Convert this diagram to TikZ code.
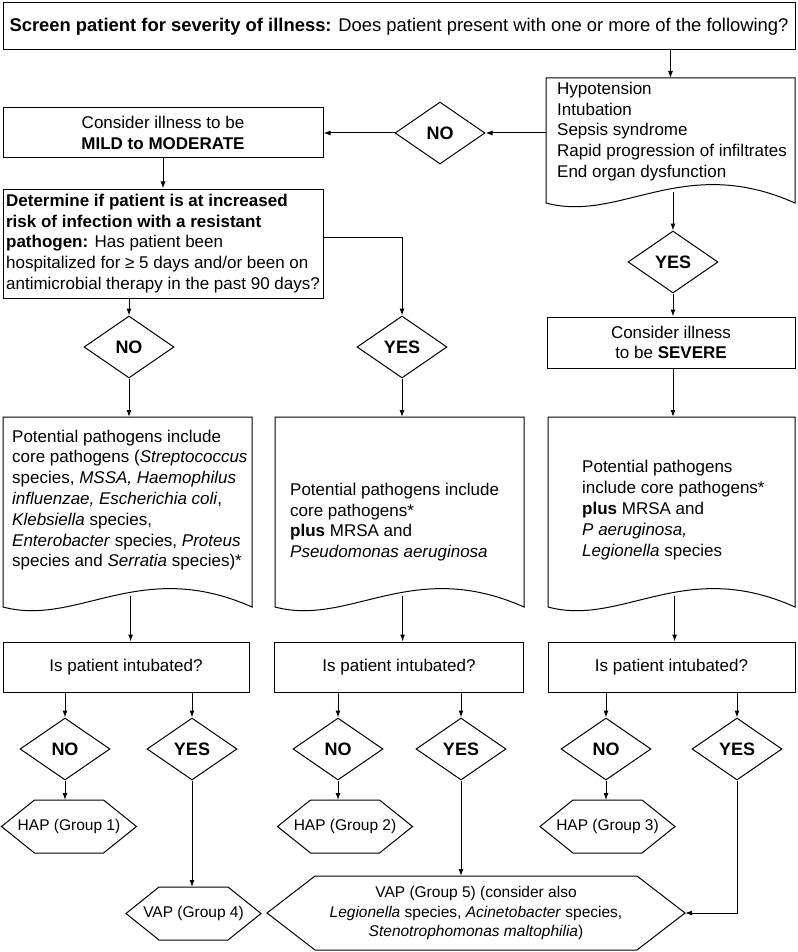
\documentclass[tikz,border=0pt]{standalone}
\usepackage{fontspec}
\setmainfont{Liberation Sans}
\usetikzlibrary{arrows.meta,shapes.geometric}
\tikzset{
  line/.style={draw=black, line width=1pt},
  arr/.style={draw=black, line width=1pt, -{Latex[length=7pt,width=5pt]}},
  body/.style={font=\fontsize{17}{20.8}\selectfont},
  rbox/.style={line, rectangle, inner sep=0pt, align=center, body},
  boxtxt/.style={inner sep=0pt, anchor=west, align=left, body},
  dia/.style={line, diamond, minimum width=90pt, minimum height=62pt, inner sep=0pt, font=\bfseries\fontsize{18}{20}\selectfont},
  hextxt/.style={inner sep=0pt, align=center, font=\fontsize{15.5}{19.5}\selectfont},
}
% document shape: name, x0, ytop, x1, ybottom, text x, text y, text
\newcommand\docbox[8]{%
  \draw[line] (#2,#3) -- (#4,#3) -- (#4,#5) .. controls ({#4-0.45*(#4-#2)},{#5-50}) and ({#2+0.3*(#4-#2)},{#5+20}) .. (#2,#5) -- cycle;
  \node[boxtxt] (#1) at (#6,#7) {#8};
  \coordinate (#1-n) at ({(#2+#4)/2},#3);
  \coordinate (#1-w) at (#2,#3);
  \coordinate (#1-s) at ({#2+0.5125*(#4-#2)},{#5-11.25});
}
% hexagon: name, cx, cy, half width, half height, inset, text
\newcommand\hexa[7]{%
  \draw[line] ({#2-#4},#3) -- ({#2-#4+#6},{#3-#5}) -- ({#2+#4-#6},{#3-#5}) -- ({#2+#4},#3) -- ({#2+#4-#6},{#3+#5}) -- ({#2-#4+#6},{#3+#5}) -- cycle;
  \node[hextxt] (#1) at (#2,#3) {#7};
  \coordinate (#1-n) at (#2,{#3-#5});
  \coordinate (#1-e) at ({#2+#4},#3);
}
\begin{document}
\begin{tikzpicture}[x=1pt,y=-1pt]
\useasboundingbox (0,0) rectangle (797,952);
% top
\node[rbox, minimum width=792pt, minimum height=47pt, font=\fontsize{18.4}{21}\selectfont] (top) at (399,26.5)
  {\textbf{Screen patient for severity of illness:} Does patient present with one or more of the following?};
\docbox{hyp}{546}{78}{795}{203}{557}{131.5}{Hypotension\\Intubation\\Sepsis syndrome\\Rapid progression of infiltrates\\End organ dysfunction}
\node[dia] (nod) at (440,133) {NO};
\node[rbox, minimum width=320pt, minimum height=50pt] (mild) at (163,133) {Consider illness to be\\\textbf{MILD to MODERATE}};
\node[rbox, minimum width=320pt, minimum height=109pt, align=left] (det) at (163,243.5)
  {\textbf{Determine if patient is at increased}\\\textbf{risk of infection with a resistant}\\\textbf{pathogen:} Has patient been\\hospitalized for ≥ 5 days and/or been on\\antimicrobial therapy in the past 90 days?};
\node[dia] (no1d) at (129,347) {NO};
\node[dia] (yes1d) at (402,347) {YES};
\node[dia] (yesS) at (673,262) {YES};
\node[rbox, minimum width=248pt, minimum height=51pt] (sev) at (671,342.5) {Consider illness\\to be \textbf{SEVERE}};
% document boxes
\docbox{d1}{3}{417}{252}{607}{12}{500}{Potential pathogens include\\core pathogens (\textit{Streptococcus}\\species, \textit{MSSA, Haemophilus}\\\textit{influenzae, Escherichia coli},\\\textit{Klebsiella} species,\\\textit{Enterobacter} species, \textit{Proteus}\\species and \textit{Serratia} species)*}
\docbox{d2}{275}{417}{524}{607}{290}{522}{Potential pathogens include\\core pathogens*\\\textbf{plus} MRSA and\\\textit{Pseudomonas aeruginosa}}
\docbox{d3}{548}{417}{795}{607}{582}{510}{Potential pathogens\\include core pathogens*\\\textbf{plus} MRSA and\\\textit{P aeruginosa,}\\\textit{Legionella} species}
% intubated boxes
\node[rbox, minimum width=246pt, minimum height=50pt] (i1) at (126,667) {Is patient intubated?};
\node[rbox, minimum width=249pt, minimum height=50pt] (i2) at (399,667) {Is patient intubated?};
\node[rbox, minimum width=247pt, minimum height=50pt] (i3) at (671.5,667) {Is patient intubated?};
% answer diamonds
\node[dia] (dn1) at (65,749) {NO};
\node[dia] (dy1) at (192,749) {YES};
\node[dia] (dn2) at (338,749) {NO};
\node[dia] (dy2) at (461,749) {YES};
\node[dia] (dn3) at (606,749) {NO};
\node[dia] (dy3) at (737,749) {YES};
% outcome hexagons
\hexa{h1}{69}{826.5}{67.5}{26.5}{33}{HAP (Group 1)}
\hexa{h2}{345}{826.5}{67.5}{26.5}{33}{HAP (Group 2)}
\hexa{h3}{607.5}{826.5}{67.5}{26.5}{33}{HAP (Group 3)}
\hexa{v4}{193.5}{913.5}{67.5}{26.5}{33}{VAP (Group 4)}
\hexa{v5}{476}{913}{209}{37}{48}{VAP (Group 5) (consider also\\\textit{Legionella} species, \textit{Acinetobacter} species,\\\textit{Stenotrophomonas maltophilia})}
% connectors
\draw[arr] (top.south -| hyp-n) -- (hyp-n);
\draw[arr] (nod.east -| hyp-w) -- (nod.east);
\draw[arr] (nod.west) -- (mild.east);
\draw[arr] (mild.south) -- (det.north);
\draw[arr] (det.south -| no1d.north) -- (no1d.north);
\draw[arr] ([yshift=6.5pt]det.east) -| (yes1d.north);
\draw[arr] (yesS.north |- hyp-s) -- (yesS.north);
\draw[arr] (yesS.south) -- (yesS.south |- sev.north);
\draw[arr] (no1d.south) -- (no1d.south |- d1-n);
\draw[arr] (yes1d.south) -- (yes1d.south |- d2-n);
\draw[arr] (sev.south -| yesS.south) -- (yesS.south |- d3-n);
\draw[arr] (d1-s) -- (d1-s |- i1.north);
\draw[arr] (d2-s) -- (d2-s |- i2.north);
\draw[arr] (d3-s) -- (d3-s |- i3.north);
\foreach \a/\b in {i1/dn1,i1/dy1,i2/dn2,i2/dy2,i3/dn3,i3/dy3}
  \draw[arr] (\a.south -| \b.north) -- (\b.north);
\draw[arr] (dn1.south) -- (dn1.south |- h1-n);
\draw[arr] (dn2.south) -- (dn2.south |- h2-n);
\draw[arr] (dn3.south) -- (dn3.south |- h3-n);
\draw[arr] (dy1.south) -- (dy1.south |- v4-n);
\draw[arr] (dy2.south) -- (dy2.south |- v5-n);
\draw[arr] (dy3.south) |- (v5-e);
\end{tikzpicture}
\end{document}
